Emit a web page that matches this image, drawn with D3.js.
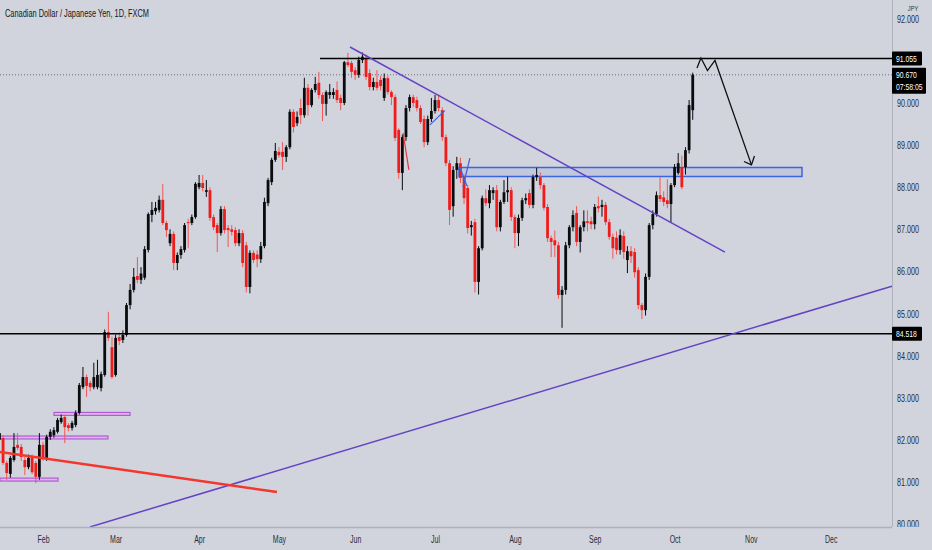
<!DOCTYPE html>
<html>
<head>
<meta charset="utf-8">
<script src="https://cdn.jsdelivr.net/npm/d3@7"></script>
<style>
  body { margin: 0; background: #d1d4dc; }
  svg { display: block; }
</style>
</head>
<body>
<div id="chart"></div>
<script>
// CAD/JPY daily bars, 14 Jan 2021 -> 8 Oct 2021 (weekdays only)
const firstDay = "2021-01-14";
const lastAxisDay = "2021-12-31";

const opens = [82.00,82.04,81.45,81.19,81.52,81.88,81.83,81.52,81.35,81.59,81.45,81.12,
  81.88,81.57,82.07,82.11,82.19,82.42,82.54,82.35,82.28,82.35,82.64,83.25,83.49,83.35,83.25,83.25,83.23,83.54,84.56,84.20,
  83.54,84.44,84.37,84.49,85.20,85.56,85.89,85.80,85.85,86.51,87.34,87.43,87.46,87.70,87.15,86.67,86.89,86.20,86.39,86.51,87.17,87.15,87.29,
  88.00,88.10,87.89,87.93,87.29,87.10,86.91,87.48,87.03,87.00,86.98,86.67,86.91,86.62,85.63,86.44,86.40,86.29,86.60,87.62,88.12,88.65,
  88.84,88.84,88.72,88.95,89.79,89.52,89.88,89.71,90.36,89.95,90.31,90.48,90.19,89.98,90.19,90.19,90.31,90.12,90.00,90.97,90.95,
  90.78,90.67,91.02,91.07,90.71,90.38,90.50,90.55,90.12,90.59,90.26,90.14,89.36,88.34,89.19,89.88,90.14,90.07,89.88,89.62,89.07,89.62,
  89.81,90.07,89.83,89.19,88.57,87.55,88.41,88.57,88.24,87.98,87.05,87.17,85.75,86.55,87.74,87.62,87.86,87.93,87.05,87.65,87.88,87.93,
  87.29,86.91,87.27,87.69,87.86,87.58,88.24,88.24,88.05,87.53,86.79,86.74,86.62,85.44,85.56,86.62,87.05,87.39,86.70,87.05,87.19,87.19,
  87.12,87.55,87.53,87.58,87.17,86.82,86.80,86.51,86.84,86.27,86.48,86.46,86.03,85.20,85.08,85.87,87.10,87.36,87.81,87.76,87.69,87.60,
  88.05,88.34,88.48,88.48,88.88,89.83];
const highs = [82.25,82.10,81.50,81.62,82.16,82.16,81.90,81.60,81.65,81.65,81.50,82.16,
  81.95,82.12,82.25,82.30,82.52,82.60,82.60,82.40,82.45,82.70,83.35,83.73,83.55,83.40,83.83,83.90,83.62,84.62,85.04,84.45,
  84.50,84.55,84.60,85.25,85.70,86.08,86.34,86.10,86.60,87.40,87.65,87.65,87.80,88.08,87.20,87.00,86.95,86.45,86.60,87.15,87.25,87.35,88.12,
  88.29,88.29,88.17,88.00,87.35,87.15,87.55,87.55,87.10,87.10,87.05,87.00,86.98,86.70,86.50,86.50,86.50,86.70,87.75,88.22,88.70,89.05,
  88.95,89.07,89.00,89.85,89.85,89.80,90.10,90.60,90.45,90.35,90.62,90.74,90.25,90.30,90.45,90.35,90.51,90.20,91.00,91.19,91.00,
  90.85,91.10,91.20,91.15,90.80,90.60,90.78,90.65,90.70,90.65,90.30,90.20,89.40,89.25,89.95,90.20,90.20,90.15,89.95,89.70,89.70,90.12,
  90.19,90.20,89.90,89.25,88.65,88.50,88.72,88.70,88.30,88.05,87.20,87.25,86.60,87.80,87.95,88.05,88.00,88.05,87.70,88.17,88.25,88.00,
  87.35,87.35,87.75,87.85,87.95,88.30,88.46,88.35,88.10,87.60,86.85,86.97,86.70,85.65,86.70,87.10,87.45,87.55,87.10,87.45,87.45,87.30,
  87.60,87.78,87.70,87.65,87.25,86.90,86.95,87.00,86.95,86.60,86.60,86.55,86.10,85.25,85.95,87.15,87.45,87.90,88.24,87.90,88.19,88.10,
  88.55,88.81,88.75,88.95,90.07,90.72];
const lows = [81.95,81.40,81.05,81.10,81.48,81.75,81.50,81.16,81.30,81.18,80.97,81.05,
  81.50,81.50,82.00,82.05,82.15,82.38,81.92,82.20,82.22,82.30,82.60,83.20,83.02,83.15,83.20,83.20,83.15,83.50,84.35,83.45,
  83.50,84.25,84.30,84.45,85.10,85.50,85.72,85.70,85.80,86.45,87.17,87.35,87.40,87.10,86.82,86.60,86.03,86.03,86.30,86.45,86.56,87.10,87.25,
  87.95,87.90,87.77,87.20,86.98,86.46,86.85,86.90,86.58,86.85,86.60,86.60,86.10,85.50,85.48,86.20,86.10,86.20,86.55,87.55,88.05,88.60,
  88.70,88.41,88.60,88.90,89.30,89.45,89.50,89.65,89.70,89.90,90.25,90.10,89.57,89.70,90.10,90.10,90.00,89.83,89.95,90.85,90.60,
  90.55,90.60,90.95,90.55,90.30,90.30,90.30,90.30,90.05,90.20,89.95,89.10,88.20,87.93,89.10,89.80,89.90,89.80,89.50,88.95,89.00,89.55,
  89.75,89.80,89.10,88.50,87.10,87.30,88.20,88.10,87.60,86.90,86.85,85.50,85.45,86.50,87.55,87.50,87.70,86.95,86.95,87.60,87.65,87.20,
  86.55,86.60,87.20,87.60,87.50,87.50,88.15,87.95,87.45,86.70,86.34,86.34,85.35,84.66,85.45,86.55,86.95,86.60,86.45,86.95,86.95,87.00,
  87.00,87.40,87.30,87.10,86.75,86.30,86.40,86.40,86.30,85.96,86.20,85.85,85.10,84.87,84.95,85.80,87.00,87.30,87.65,87.55,87.50,87.17,
  88.00,88.30,87.95,88.30,88.80,89.60];
const closes = [82.16,81.45,81.21,81.57,81.83,81.81,81.59,81.35,81.57,81.23,81.12,81.88,
  81.57,82.07,82.19,82.23,82.47,82.52,82.30,82.28,82.40,82.64,83.30,83.49,83.28,83.25,83.49,83.54,83.56,84.56,84.42,83.49,
  84.42,84.35,84.49,85.20,85.56,85.87,85.80,85.95,86.53,87.36,87.46,87.51,87.70,87.15,86.98,86.89,86.20,86.39,86.53,87.10,87.15,87.29,88.08,
  88.10,87.98,87.93,87.27,87.05,86.91,87.48,86.98,86.98,86.94,86.67,86.91,86.20,85.63,86.44,86.27,86.29,86.60,87.65,88.17,88.65,88.86,
  88.76,88.72,88.95,89.79,89.43,89.67,89.71,90.36,89.95,90.31,90.45,90.19,89.98,90.26,90.26,90.26,90.07,90.00,90.97,90.90,90.74,
  90.67,91.02,91.10,90.62,90.38,90.50,90.36,90.40,90.59,90.26,90.14,89.17,88.34,89.19,89.88,90.14,90.00,89.88,89.55,89.07,89.62,89.81,
  90.07,89.88,89.19,88.57,87.46,88.41,88.57,88.22,87.74,87.03,87.10,85.75,86.55,87.74,87.62,87.93,87.93,87.05,87.65,87.88,87.93,87.29,
  86.91,87.27,87.69,87.74,87.58,88.24,88.29,88.05,87.51,86.79,86.70,86.62,85.44,85.56,86.62,87.05,87.34,86.70,87.05,87.19,87.15,87.12,
  87.53,87.50,87.58,87.17,86.82,86.55,86.51,86.86,86.46,86.48,86.36,85.98,85.20,85.08,85.87,87.10,87.36,87.81,87.72,87.65,87.60,88.05,
  88.48,88.57,88.00,88.88,89.95,90.67];

const priceTicks = [80, 81, 82, 83, 84, 85, 86, 87, 88, 89, 90, 91, 92];
const monthNames = ["Feb", "Mar", "Apr", "May", "Jun", "Jul", "Aug", "Sep", "Oct", "Nov", "Dec"];
const title = "Canadian Dollar / Japanese Yen, 1D, FXCM";
const currency = "JPY";
const countdown = "07:58:05";

// chart drawings, as [bar index, price]
const resistance = 91.055, resistanceFrom = 88.3;
const support = 84.518;
const lastPrice = 90.670;
const falling = [[96.57, 91.33], [199.88, 86.46]];
const rising = [[24.95, 79.93], [245.88, 85.65]];
const redLine = [[0.15, 81.71], [76.46, 80.76]];
const blueZone = [[126.6, 88.468], [221.1, 88.254]];
const purpleZones = [[[15.03, 82.65], [35.97, 82.58]], [[0.15, 82.09], [29.9, 82.02]], [[0.15, 81.09], [16.13, 81.02]]];
const projection = [[192.17, 90.83], [193.27, 91.07], [195.06, 90.77], [197.13, 91.01], [207.18, 88.53]];
const arrowHead = [[205.12, 88.61], [207.18, 88.53], [208.0, 88.74]];
const smallBlue = [[[118.6, 89.48], [122.7, 89.82]], [[127.7, 88.0], [129.6, 88.69]], [[126.9, 88.46], [128.8, 88.03]]];
const smallRed = [[[111.2, 89.29], [112.8, 88.41]]];

const width = 932, height = 550, plotW = 892, plotH = 527;
const bg = "#d1d4dc", upColor = "#0a0b0d", downColor = "#f01c1c";
const purple = "#6343c4";

const parseDay = d3.timeParse("%Y-%m-%d");
const days = d3.timeDay.range(parseDay(firstDay), d3.timeDay.offset(parseDay(lastAxisDay), 1))
  .filter(d => d.getDay() !== 0 && d.getDay() !== 6);

const bars = opens.map((o, i) => ({ i: i, date: days[i], o: o, h: highs[i], l: lows[i], c: closes[i] }));

const x = d3.scaleLinear().domain([0.15, 245.9]).range([0, plotW]);
const y = d3.scaleLinear().domain([80, 92]).range([524, 18.8]);

const svg = d3.select("#chart").append("svg")
  .attr("width", width)
  .attr("height", height)
  .style("font-family", "'Liberation Sans', Arial, sans-serif");

svg.append("rect").attr("width", width).attr("height", height).attr("fill", bg);

svg.append("clipPath").attr("id", "plot")
  .append("rect").attr("width", plotW).attr("height", plotH);

const plot = svg.append("g").attr("clip-path", "url(#plot)");

// squeeze text to match the narrow glyphs of the screenshot
function squeeze(sel, f) {
  sel.each(function() {
    const w = this.getComputedTextLength();
    d3.select(this).attr("textLength", w * f).attr("lengthAdjust", "spacingAndGlyphs");
  });
}

const line = d3.line().x(d => x(d[0])).y(d => y(d[1]));

// last price dotted line
plot.append("line")
  .attr("x1", 0).attr("x2", plotW)
  .attr("y1", y(lastPrice)).attr("y2", y(lastPrice))
  .attr("stroke", "#6a6d78").attr("stroke-width", 1).attr("stroke-dasharray", "1,2");

// purple zones
plot.selectAll(".pz").data(purpleZones).join("rect")
  .attr("x", d => x(d[0][0]))
  .attr("y", d => y(d[0][1]))
  .attr("width", d => x(d[1][0]) - x(d[0][0]))
  .attr("height", d => y(d[1][1]) - y(d[0][1]))
  .attr("fill", "#dcb8ec").attr("stroke", "#b25ad6").attr("stroke-width", 1.2);

// blue zone
plot.append("rect")
  .attr("x", x(blueZone[0][0]))
  .attr("y", y(blueZone[0][1]))
  .attr("width", x(blueZone[1][0]) - x(blueZone[0][0]))
  .attr("height", y(blueZone[1][1]) - y(blueZone[0][1]))
  .attr("fill", "rgba(120,150,230,0.18)").attr("stroke", "#3a66dd").attr("stroke-width", 1.5);

// candles
const candles = plot.append("g").selectAll("g").data(bars).join("g");
candles.append("line")
  .attr("x1", d => x(d.i)).attr("x2", d => x(d.i))
  .attr("y1", d => y(d.h)).attr("y2", d => y(d.l))
  .attr("stroke", d => d.c >= d.o ? upColor : "#f25656")
  .attr("stroke-width", 1);
candles.append("rect")
  .attr("x", d => x(d.i) - 1.4)
  .attr("width", 2.8)
  .attr("y", d => y(Math.max(d.o, d.c)))
  .attr("height", d => Math.max(1, Math.abs(y(d.o) - y(d.c))))
  .attr("fill", d => d.c >= d.o ? upColor : downColor);

// horizontal levels
plot.append("line")
  .attr("x1", x(resistanceFrom)).attr("x2", plotW)
  .attr("y1", y(resistance)).attr("y2", y(resistance))
  .attr("stroke", "#000").attr("stroke-width", 1.5);
plot.append("line")
  .attr("x1", 0).attr("x2", plotW)
  .attr("y1", y(support)).attr("y2", y(support))
  .attr("stroke", "#000").attr("stroke-width", 1.5);

// trend lines
plot.append("path").datum(falling).attr("d", line)
  .attr("fill", "none").attr("stroke", purple).attr("stroke-width", 1.5);
plot.append("path").datum(rising).attr("d", line)
  .attr("fill", "none").attr("stroke", purple).attr("stroke-width", 1.5);
plot.append("path").datum(redLine).attr("d", line)
  .attr("fill", "none").attr("stroke", "#f4372e").attr("stroke-width", 2.5);

// small drawings
plot.selectAll(".sb").data(smallBlue).join("path").attr("d", line)
  .attr("fill", "none").attr("stroke", "#3d5fdc").attr("stroke-width", 1.2);
plot.selectAll(".sr").data(smallRed).join("path").attr("d", line)
  .attr("fill", "none").attr("stroke", "#e8383a").attr("stroke-width", 1.2);

// projected path
plot.append("path").datum(projection).attr("d", line)
  .attr("fill", "none").attr("stroke", "#111").attr("stroke-width", 1.3);
plot.append("path").datum(arrowHead).attr("d", line)
  .attr("fill", "none").attr("stroke", "#111").attr("stroke-width", 1.3);

// title
svg.append("text")
  .attr("x", 5).attr("y", 17)
  .attr("font-size", 11.5).attr("fill", "#131722")
  .attr("textLength", 144).attr("lengthAdjust", "spacingAndGlyphs")
  .text(title);

// axes frame
svg.append("line").attr("x1", plotW + 0.5).attr("x2", plotW + 0.5).attr("y1", 0).attr("y2", height)
  .attr("stroke", "#aeb1b9").attr("stroke-width", 1);

// right price axis; labels hidden under a price tag are not drawn, as in TradingView
const tagPrices = [resistance, support, lastPrice];
const shownTicks = priceTicks.filter(p => !tagPrices.some(t => Math.abs(y(p) - y(t)) < 8));
const yAxis = svg.append("g")
  .attr("transform", `translate(${plotW + 5},0)`)
  .call(d3.axisRight(y).tickValues(shownTicks).tickFormat(d3.format(".3f")).tickSize(0));
yAxis.select(".domain").remove();
yAxis.selectAll("text")
  .attr("x", 0).attr("dy", "0.35em")
  .attr("font-size", 10).attr("fill", "#2a2e39")
  .style("font-family", "'Liberation Sans', Arial, sans-serif")
  .call(squeeze, 0.72);

// bottom time axis
const monthIdx = monthNames.map((m, j) => days.findIndex(d => d.getMonth() === j + 1));
svg.append("rect").attr("x", 0).attr("y", plotH).attr("width", width).attr("height", height - plotH).attr("fill", bg);
const xAxis = svg.append("g")
  .attr("transform", `translate(0,${plotH})`)
  .call(d3.axisBottom(x).tickValues(monthIdx).tickFormat((d, j) => monthNames[j]).tickSize(0));
xAxis.select(".domain").remove();
xAxis.selectAll("text")
  .attr("y", 9)
  .attr("font-size", 10).attr("fill", "#2a2e39")
  .style("font-family", "'Liberation Sans', Arial, sans-serif")
  .call(squeeze, 0.7);
svg.append("line").attr("x1", 0).attr("x2", plotW).attr("y1", plotH + 0.5).attr("y2", plotH + 0.5)
  .attr("stroke", "#aeb1b9").attr("stroke-width", 1.5);

// currency label over the top tick
svg.append("rect").attr("x", plotW + 1).attr("y", 0).attr("width", width - plotW).attr("height", 14).attr("fill", bg);
svg.append("text")
  .attr("x", 913).attr("y", 11)
  .attr("text-anchor", "middle")
  .attr("font-size", 7.5).attr("fill", "#2a2e39")
  .text(currency)
  .call(squeeze, 0.75);

// price tags
function tag(price, lines, w) {
  const h = lines.length * 12 + 2;
  const g = svg.append("g").attr("transform", `translate(${plotW},${y(price) - 7})`);
  g.append("rect").attr("width", w).attr("height", h).attr("fill", "#000").attr("rx", 1);
  lines.forEach((t, k) => {
    g.append("text")
      .attr("x", 4).attr("y", 10.5 + k * 12)
      .attr("font-size", 9.5).attr("fill", "#fff")
      .text(t)
      .call(squeeze, 0.72);
  });
}
tag(resistance, [d3.format(".3f")(resistance)], 30);
tag(support, [d3.format(".3f")(support)], 30);
tag(lastPrice, [d3.format(".3f")(lastPrice), countdown], 34);
</script>
</body>
</html>
